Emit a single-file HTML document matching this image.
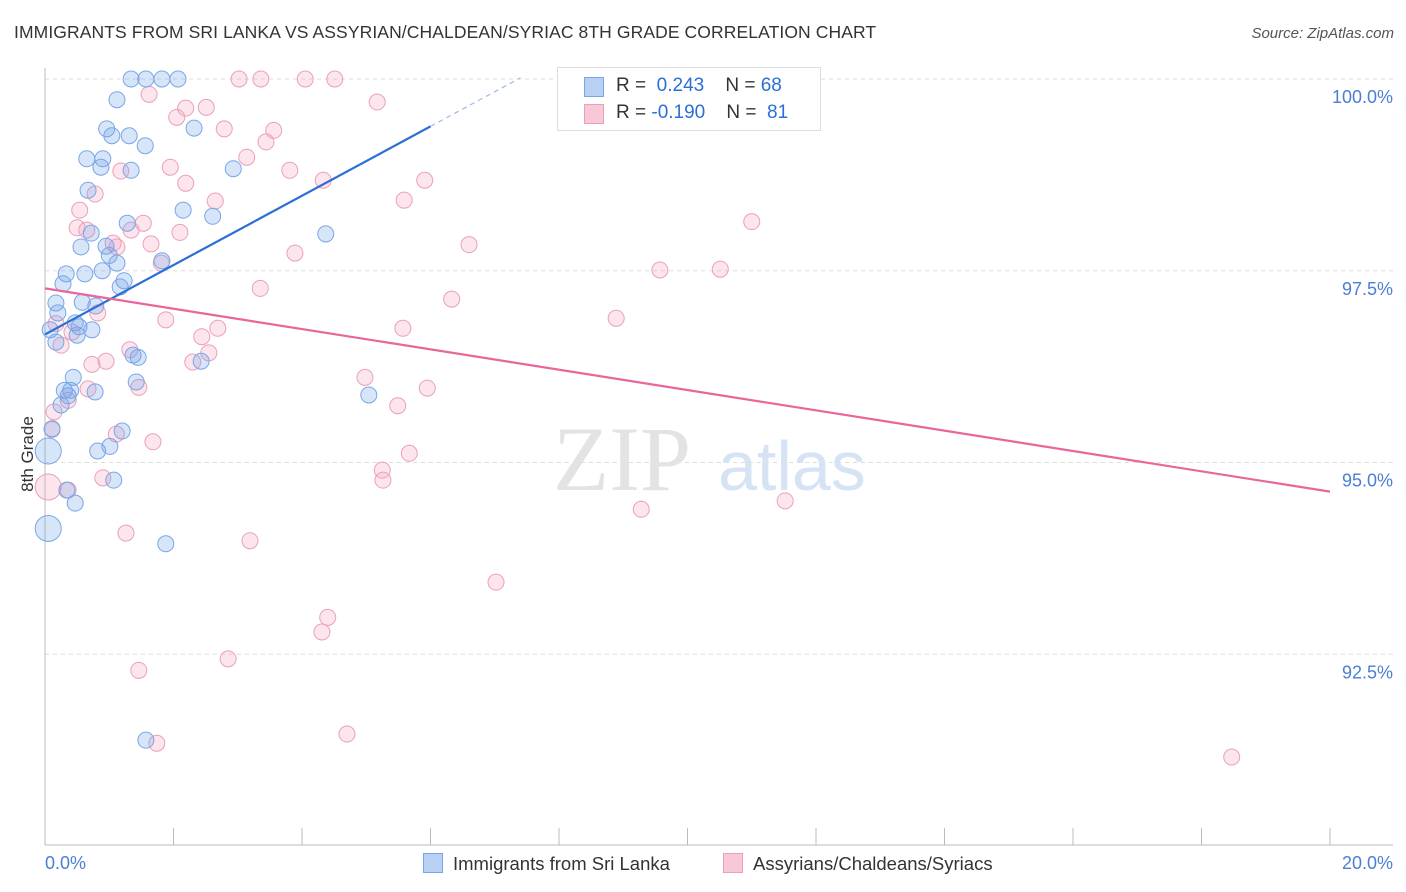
<!DOCTYPE html>
<html><head><meta charset="utf-8"><style>
body{margin:0;background:#fff;font-family:"Liberation Sans",sans-serif;}
#wrap{position:relative;width:1406px;height:892px;overflow:hidden;}
.t{position:absolute;white-space:nowrap;}
</style></head><body>
<div id="wrap">
<div class="t" style="left:14px;top:22px;font-size:17.5px;color:#333;letter-spacing:0.1px">IMMIGRANTS FROM SRI LANKA VS ASSYRIAN/CHALDEAN/SYRIAC 8TH GRADE CORRELATION CHART</div>
<div class="t" style="right:12px;top:25px;font-size:15px;color:#555;font-style:italic">Source: ZipAtlas.com</div>
<svg id="svg" width="1406" height="892" style="position:absolute;left:0;top:0"></svg>
</div>
<script>
const xTicks=[0,2,4,6,8,10,12,14,16,18,20];
const yTicks=[92.5,95,97.5,100];
const yTickLabels=["92.5%","95.0%","97.5%","100.0%"];
const blueX=[1.34,1.57,1.82,2.07,1.12,0.96,2.32,1.04,1.31,1.56,0.65,0.90,0.87,1.34,2.93,0.67,2.15,2.61,1.28,0.72,4.37,0.56,0.95,1.00,1.82,1.12,0.33,0.62,0.89,1.23,0.28,1.17,0.17,0.58,0.79,0.20,0.47,0.08,0.53,0.73,0.50,0.17,1.37,1.45,2.43,0.44,1.42,0.30,0.40,0.78,0.36,0.25,5.04,0.11,1.20,1.01,0.82,0.05,1.07,0.34,0.47,0.05,1.88,1.57];
const blueY=[100,100,100,100,99.73,99.35,99.36,99.26,99.26,99.13,98.96,98.96,98.85,98.81,98.83,98.55,98.29,98.21,98.12,97.99,97.98,97.81,97.82,97.70,97.63,97.60,97.46,97.46,97.50,97.37,97.33,97.29,97.08,97.09,97.04,96.95,96.82,96.73,96.77,96.73,96.66,96.57,96.40,96.37,96.32,96.11,96.05,95.94,95.94,95.92,95.87,95.75,95.88,95.44,95.41,95.21,95.15,95.15,94.77,94.64,94.47,94.14,93.94,91.38];
const blueBig=[57,61];
const pinkX=[1.62,3.02,3.36,4.05,4.51,2.19,2.51,2.05,5.17,2.79,3.56,3.44,3.14,1.95,3.81,1.18,4.33,5.91,2.19,0.78,5.59,2.65,0.54,11.00,1.53,0.50,0.65,1.34,2.10,1.06,1.65,6.60,1.12,3.89,1.81,9.57,10.51,3.35,6.33,0.82,8.89,1.88,2.69,5.57,2.44,0.42,1.32,0.25,2.55,0.95,2.30,0.73,4.98,5.95,1.46,0.67,5.49,0.36,0.14,1.11,1.68,5.67,0.11,0.90,5.25,5.26,0.05,0.36,9.28,11.52,1.26,3.19,7.02,4.40,4.31,2.85,1.46,4.70,1.74,18.47,0.17];
const pinkY=[99.80,100,100,100,100,99.62,99.63,99.50,99.70,99.35,99.33,99.18,98.98,98.85,98.81,98.80,98.68,98.68,98.64,98.50,98.42,98.41,98.29,98.14,98.12,98.06,98.03,98.03,98.00,97.86,97.85,97.84,97.81,97.73,97.60,97.51,97.52,97.27,97.13,96.95,96.88,96.86,96.75,96.75,96.64,96.70,96.47,96.53,96.43,96.32,96.31,96.28,96.11,95.97,95.98,95.96,95.74,95.81,95.66,95.37,95.27,95.12,95.43,94.80,94.90,94.77,94.68,94.64,94.39,94.50,94.08,93.98,93.44,92.98,92.79,92.44,92.29,91.46,91.34,91.16,96.81];
const pinkBig=[66];
const blueTrend=[96.67,0.452]; // intercept, slope
const pinkTrend=[97.27,-0.1325];
const NS="http://www.w3.org/2000/svg";
const svg=document.getElementById('svg');
const sx=v=>45+v*64.25;
const sy=v=>79+(100-v)*76.7;
function mk(tag,attrs,parent){const e=document.createElementNS(NS,tag);for(const k in attrs)e.setAttribute(k,attrs[k]);(parent||svg).appendChild(e);return e;}
// gridlines
[...yTicks].forEach((t,i)=>{
 const g=mk('line',{x1:45,x2:1393,y1:sy(t),y2:sy(t),stroke:'#ddd','stroke-dasharray':'4,4'});
 
 
 const l=mk('text',{x:1393,y:sy(t)+24,'text-anchor':'end','font-size':18,fill:'#4a7fd4','font-family':'Liberation Sans'});
 l.textContent=yTickLabels[i];
 
 
});
const ax=mk('line',{x1:45,x2:45,y1:68,y2:845,stroke:'#bbb'});


const bx=mk('line',{x1:45,x2:1393,y1:845,y2:845,stroke:'#bbb'});


xTicks.forEach(t=>{const k=mk('line',{x1:sx(t),x2:sx(t),y1:828,y2:845,stroke:'#bbb'});
 
 });
// watermark
const wm=mk('text',{x:553,y:490,'font-size':92,fill:'#e3e3e3','font-family':'Liberation Serif'});wm.textContent='ZIP';


const wm2=mk('text',{x:718,y:490,'font-size':70,fill:'#d6e3f5','font-family':'Liberation Sans'});wm2.textContent='atlas';


function pts(X,Y,big,fill,stroke,name){X.forEach((x,i)=>{const r=big.includes(i)?13:8;
 const c=mk('circle',{cx:sx(x),cy:sy(Y[i]),r:r,fill:fill,stroke:stroke,'stroke-width':1});
 
 });}
pts(pinkX,pinkY,pinkBig,'rgba(244,160,190,0.28)','#eaa0bb','pink-point');
pts(blueX,blueY,blueBig,'rgba(110,160,235,0.28)','#7aa6e6','blue-point');
// trend lines
const bl=mk('line',{x1:sx(0),y1:sy(blueTrend[0]),x2:sx(6),y2:sy(blueTrend[0]+6*blueTrend[1]),stroke:'#2b6fd6','stroke-width':2.2});


const bd=mk('line',{x1:sx(6),y1:sy(blueTrend[0]+6*blueTrend[1]),x2:sx(7.4),y2:sy(blueTrend[0]+7.4*blueTrend[1]),stroke:'#9bbbe8','stroke-width':1.2,'stroke-dasharray':'5,4'});


const pl=mk('line',{x1:sx(0),y1:sy(pinkTrend[0]),x2:sx(20),y2:sy(pinkTrend[0]+20*pinkTrend[1]),stroke:'#e8669a','stroke-width':2.2});


</script>
<div class="t" style="left:-10px;top:444px;font-size:17px;color:#333;transform:rotate(-90deg);width:76px;text-align:center">8th Grade</div>
<div class="t" style="left:45px;top:853px;font-size:18px;color:#4a7fd4">0.0%</div>
<div class="t" style="right:13px;top:853px;font-size:18px;color:#4a7fd4">20.0%</div>
<div style="position:absolute;left:557px;top:67px;width:262px;height:62px;border:1px solid #ddd;background:#fff;font-size:19px;color:#333">
 <div style="position:absolute;left:26px;top:9px;width:18px;height:18px;background:#b7d0f4;border:1px solid #7aa6e6"></div>
 <div class="t" style="left:58px;top:7px">R = <span style="color:#2b6fd6">&nbsp;0.243</span>&nbsp;&nbsp;&nbsp; N = <span style="color:#2b6fd6">68</span></div>
 <div style="position:absolute;left:26px;top:36px;width:18px;height:18px;background:#f8c8d8;border:1px solid #eaa0bb"></div>
 <div class="t" style="left:58px;top:34px">R = <span style="color:#2b6fd6">-0.190</span>&nbsp;&nbsp;&nbsp; N = <span style="color:#2b6fd6">&nbsp;81</span></div>
</div>
<div style="position:absolute;left:423px;top:853px;font-size:18.5px;color:#333;white-space:nowrap">
 <span style="display:inline-block;width:18px;height:18px;background:#b7d0f4;border:1px solid #7aa6e6;vertical-align:-3px;margin-right:10px"></span>Immigrants from Sri Lanka</div>
<div style="position:absolute;left:723px;top:853px;font-size:18.5px;color:#333;white-space:nowrap">
 <span style="display:inline-block;width:18px;height:18px;background:#f8c8d8;border:1px solid #eaa0bb;vertical-align:-3px;margin-right:10px"></span>Assyrians/Chaldeans/Syriacs</div>
</body></html>
